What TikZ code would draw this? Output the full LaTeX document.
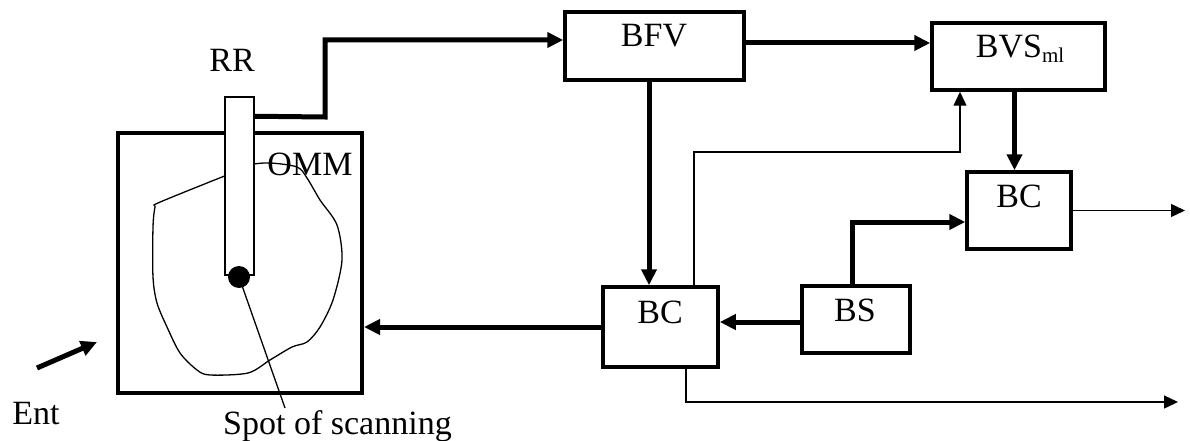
\documentclass[tikz,border=0pt]{standalone}
\usepackage{fontspec}
\setmainfont{Liberation Serif}
\usetikzlibrary{arrows.meta}
\begin{document}
\begin{tikzpicture}[x=1pt,y=-1pt,
  blk/.style={draw,line width=3.5pt,inner sep=0pt,minimum width=#1},
  lbl/.style={font=\fontsize{34}{40}\selectfont,inner sep=0pt,anchor=base},
  thk/.style={line width=5pt,-{Triangle[length=16pt,width=15pt]}},
  thn/.style={line width=1.3pt,-{Triangle[length=14pt,width=13pt]}},
]
\useasboundingbox (0,0) rectangle (1190,441);

% OMM box and contents
\node[draw,line width=4pt,minimum width=244pt,minimum height=260pt,inner sep=0pt] (omm) at (240,263) {};
\draw[line width=1.3pt] plot[smooth cycle,tension=0.5] coordinates {
 (158,203) (207,183) (227,175) (250,165) (270,163) (297,167) (307,178)
 (320,200) (337,225) (342,260) (333,300) (320,327) (307,342) (292,347)
 (270,360) (248,373) (210,375) (197,370) (180,353) (167,327) (157,303)
 (153,277) (153,227) (155,207)};
\node[draw,fill=white,line width=1.5pt,minimum width=29pt,minimum height=178pt,inner sep=0pt] (rr) at (239.5,186) {};
\node[circle,fill=black,minimum size=22pt,inner sep=0pt] (dot) at (239,277) {};
\coordinate (spotend) at (285,408);
\draw[line width=1.3pt] (dot.center) -- (spotend);

\node[lbl] (rrl) at (232,72) {RR};
\node[lbl] (omml) at (310,175) {OMM};
\node[lbl,anchor=base west] (spotl) at (223,434) {Spot of scanning};
\node[lbl] (entl) at (36,424) {Ent};
\coordinate (ents) at (37,368);
\coordinate (ente) at (97,342);
\draw[thk] (ents) -- (ente);

% blocks
\node[blk=179pt,minimum height=68pt] (bfv) at (654.5,46) {};
\node[blk=173pt,minimum height=67pt] (bvs) at (1018.5,56.5) {};
\node[blk=104pt,minimum height=77pt] (bctr) at (1019,210.5) {};
\node[blk=115pt,minimum height=80pt] (bcb) at (660.5,327) {};
\node[blk=108pt,minimum height=67pt] (bs) at (856,319.5) {};

\node[lbl] (bfvl) at (654,47) {BFV};
\node[lbl] (bvsl) at (1020,58) {BVS\raisebox{-5pt}{\fontsize{21}{21}\selectfont ml}};
\node[lbl] (bctrl) at (1019,207) {BC};
\node[lbl] (bcbl) at (660,323) {BC};
\node[lbl] (bsl) at (855,321) {BS};

% connectors
\draw[thk] ([yshift=-20pt]rr.north east) -- (325,117) -- (325,40) -- ([yshift=6pt]bfv.west);
\draw[thk] ([yshift=3pt]bfv.east) -- ([yshift=3pt]bfv.east -| bvs.west);
\draw[thk] ([xshift=-4pt]bvs.south) -- ([xshift=-4pt]bvs.south |- bctr.north);
\draw[thk] ([xshift=-5.5pt]bfv.south) -- ([xshift=-5.5pt]bfv.south |- bcb.north);
\draw[thk] ([yshift=-2.5pt]bs.west) -- ([yshift=-2.5pt]bs.west -| bcb.east);
\draw[thk] (bcb.west) -- (bcb.west -| omm.east);
\draw[thk] ([xshift=-4pt]bs.north) |- ([yshift=-11.5pt]bctr.west);
\draw[thn] ([xshift=33.5pt]bcb.north) -- (694,152) -| ([xshift=-58.5pt]bvs.south);
\coordinate (outa) at (1185,210.5);
\draw[thn] (bctr.east) -- (outa);
\coordinate (outb) at (1178,402);
\draw[thn] ([xshift=25.5pt]bcb.south) |- (outb);
\end{tikzpicture}
\end{document}
